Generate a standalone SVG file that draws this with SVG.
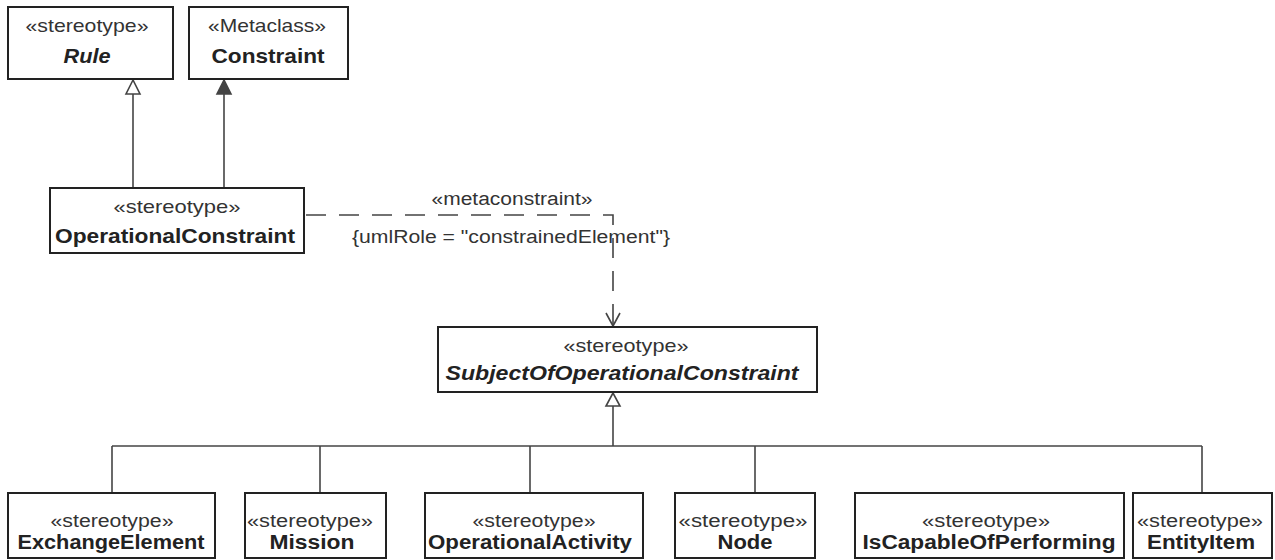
<svg xmlns="http://www.w3.org/2000/svg" width="1275" height="560" viewBox="0 0 1275 560">
<defs>
<style>
.box{fill:#fff;stroke:#222;stroke-width:2}
.st{font-family:"Liberation Sans",Arial,sans-serif;font-size:19px;fill:#333;text-anchor:middle}
.nm{font-family:"Liberation Sans",Arial,sans-serif;font-size:21px;font-weight:bold;fill:#222;text-anchor:middle}
.st2{font-family:"Liberation Sans",Arial,sans-serif;font-size:18px;fill:#333;text-anchor:middle}
.nm2{font-family:"Liberation Sans",Arial,sans-serif;font-size:20px;font-weight:bold;fill:#222;text-anchor:middle}
.it{font-style:italic}
.ln{fill:none;stroke:#444;stroke-width:1.6}
.dash{fill:none;stroke:#444;stroke-width:1.6;stroke-dasharray:20,13}
.lbl{font-family:"Liberation Sans",Arial,sans-serif;font-size:18px;fill:#333;text-anchor:middle}
</style>
</defs>
<rect width="1275" height="560" fill="#fff"/>
<g id="connectors">
<line class="ln" x1="133" y1="94" x2="133" y2="188"/>
<polygon points="133,80 126,94 140,94" fill="#fff" stroke="#444" stroke-width="1.6"/>
<line class="ln" x1="224" y1="94" x2="224" y2="188"/>
<polygon points="224,80 217,94 231,94" fill="#444" stroke="#444" stroke-width="1.6"/>
<path class="dash" d="M306,215 H613 V325"/>
<path class="ln" d="M606,313 L613,326 L620,313"/>
<text class="lbl" x="512" y="205" textLength="161" lengthAdjust="spacingAndGlyphs">«metaconstraint»</text>
<text class="lbl" x="511" y="243" textLength="318" lengthAdjust="spacingAndGlyphs">{umlRole = "constrainedElement"}</text>
<line class="ln" x1="613" y1="406" x2="613" y2="446"/>
<polygon points="613,393 606,406 620,406" fill="#fff" stroke="#444" stroke-width="1.6"/>
<line class="ln" x1="112" y1="446" x2="1202" y2="446"/>
<line class="ln" x1="112" y1="446" x2="112" y2="493"/>
<line class="ln" x1="320" y1="446" x2="320" y2="493"/>
<line class="ln" x1="530" y1="446" x2="530" y2="493"/>
<line class="ln" x1="755" y1="446" x2="755" y2="493"/>
<line class="ln" x1="1202" y1="446" x2="1202" y2="493"/>
</g>
<g id="rule">
<rect class="box" x="8" y="7" width="165" height="72"/>
<text class="st" x="87" y="32" textLength="123" lengthAdjust="spacingAndGlyphs">«stereotype»</text>
<text class="nm it" x="87" y="63" textLength="47" lengthAdjust="spacingAndGlyphs">Rule</text>
</g>
<g id="constraint">
<rect class="box" x="189" y="7" width="159" height="72"/>
<text class="st" x="267" y="32" textLength="118" lengthAdjust="spacingAndGlyphs">«Metaclass»</text>
<text class="nm" x="268" y="63" textLength="113" lengthAdjust="spacingAndGlyphs">Constraint</text>
</g>
<g id="operationalConstraint">
<rect class="box" x="50" y="188" width="254" height="65"/>
<text class="st" x="177" y="213" textLength="127" lengthAdjust="spacingAndGlyphs">«stereotype»</text>
<text class="nm" x="175" y="243" textLength="240" lengthAdjust="spacingAndGlyphs">OperationalConstraint</text>
</g>
<g id="subjectOfOperationalConstraint">
<rect class="box" x="438" y="327" width="379" height="65"/>
<text class="st" x="626" y="352" textLength="125" lengthAdjust="spacingAndGlyphs">«stereotype»</text>
<text class="nm it" x="622" y="380" textLength="353" lengthAdjust="spacingAndGlyphs">SubjectOfOperationalConstraint</text>
</g>
<g id="exchangeElement">
<rect class="box" x="8" y="493" width="207" height="65"/>
<text class="st2" x="112" y="527" textLength="123" lengthAdjust="spacingAndGlyphs">«stereotype»</text>
<text class="nm2" x="111" y="549" textLength="187" lengthAdjust="spacingAndGlyphs">ExchangeElement</text>
</g>
<g id="mission">
<rect class="box" x="245" y="493" width="141" height="65"/>
<text class="st2" x="310" y="527" textLength="126" lengthAdjust="spacingAndGlyphs">«stereotype»</text>
<text class="nm2" x="312" y="549" textLength="85" lengthAdjust="spacingAndGlyphs">Mission</text>
</g>
<g id="operationalActivity">
<rect class="box" x="425" y="493" width="218" height="65"/>
<text class="st2" x="534" y="527" textLength="123" lengthAdjust="spacingAndGlyphs">«stereotype»</text>
<text class="nm2" x="530" y="549" textLength="204" lengthAdjust="spacingAndGlyphs">OperationalActivity</text>
</g>
<g id="node">
<rect class="box" x="675" y="493" width="140" height="65"/>
<text class="st2" x="743" y="527" textLength="129" lengthAdjust="spacingAndGlyphs">«stereotype»</text>
<text class="nm2" x="745" y="549" textLength="55" lengthAdjust="spacingAndGlyphs">Node</text>
</g>
<g id="isCapableOfPerforming">
<rect class="box" x="855" y="493" width="269" height="65"/>
<text class="st2" x="986" y="527" textLength="128" lengthAdjust="spacingAndGlyphs">«stereotype»</text>
<text class="nm2" x="989" y="549" textLength="253" lengthAdjust="spacingAndGlyphs">IsCapableOfPerforming</text>
</g>
<g id="entityItem">
<rect class="box" x="1133" y="493" width="139" height="65"/>
<text class="st2" x="1200" y="527" textLength="126" lengthAdjust="spacingAndGlyphs">«stereotype»</text>
<text class="nm2" x="1201" y="549" textLength="108" lengthAdjust="spacingAndGlyphs">EntityItem</text>
</g>
</svg>
